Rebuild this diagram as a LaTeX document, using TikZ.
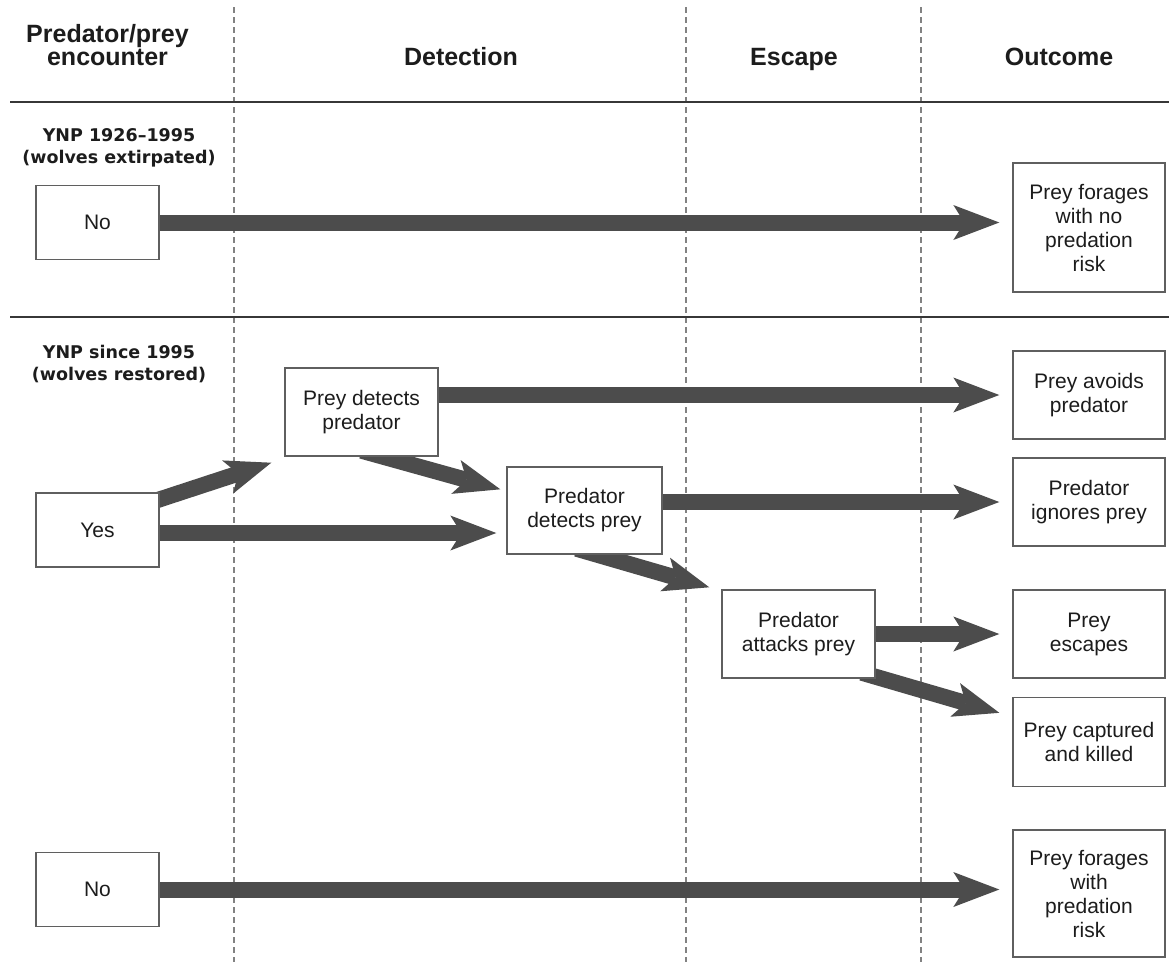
\documentclass[tikz,border=0pt]{standalone}
\usepackage{fontspec}
\setmainfont{Liberation Sans}
\newfontfamily\ynpfont{DejaVu Sans}
\usetikzlibrary{arrows.meta,calc}
\pgfdeclarelayer{back}
\pgfdeclarelayer{mid}
\pgfsetlayers{back,mid,main}
\definecolor{arrowgray}{RGB}{76,76,76}
\definecolor{boxline}{RGB}{95,95,95}
\definecolor{dashgray}{RGB}{130,130,130}
\definecolor{sepline}{RGB}{55,55,55}
\definecolor{txt}{RGB}{28,28,28}
\begin{document}
\begin{tikzpicture}[x=1pt,y=-1pt,
  box/.style={draw=boxline, line width=1.4pt, fill=white, text=txt, align=center,
    inner sep=0pt, minimum width=153pt, minimum height=88pt,
    font=\fontsize{21}{24}\selectfont},
  smallbox/.style={box, minimum width=123pt, minimum height=74pt},
  bigarrow/.style={draw=arrowgray, line width=16pt,
    -{Stealth[length=46pt,width=35pt,inset=11pt,line width=0pt]}},
  dashline/.style={draw=dashgray, line width=1.3pt, dash pattern=on 6pt off 4pt},
  sepstyle/.style={draw=sepline, line width=1.6pt},
  header/.style={text=txt, align=center, inner sep=0pt,
    font=\fontsize{25}{23}\selectfont\bfseries},
  era/.style={text=txt, align=center, inner sep=0pt,
    font=\ynpfont\fontsize{17.5}{22}\selectfont\bfseries}]

\useasboundingbox (0,0) rectangle (1169,962);

% background, column guides and row separators
\begin{pgfonlayer}{back}
  \fill[white] (0,0) rectangle (1169,962);
  \draw[dashline] (234,7) -- (234,962);
  \draw[dashline] (686,7) -- (686,962);
  \draw[dashline] (921,7) -- (921,962);
  \draw[sepstyle] (10,102) -- (1169,102);
  \draw[sepstyle] (10,317) -- (1169,317);
\end{pgfonlayer}

% headers
\node[header] (hEnc) at (107.5,45) {Predator/prey\\encounter};
\node[header, anchor=base] (hDet) at (461,65) {Detection};
\node[header, anchor=base] (hEsc) at (794,65) {Escape};
\node[header, anchor=base] (hOut) at (1059,65) {Outcome};

% era labels
\node[era] (era1) at (119,148) {YNP 1926–1995\\(wolves extirpated)};
\node[era] (era2) at (119,364) {YNP since 1995\\(wolves restored)};

% encounter boxes
\node[smallbox] (no1) at (97.5,222.5) {No};
\node[smallbox] (yes) at (97.5,530) {Yes};
\node[smallbox] (no2) at (97.5,889.5) {No};

% process boxes
\node[box] (pd)  at (361.5,412) {Prey detects\\predator};
\node[box, minimum width=155pt, minimum height=87pt] (pdp) at (584.5,510.5) {Predator\\detects prey};
\node[box] (pap) at (798.5,634) {Predator\\attacks prey};

% outcome boxes
\node[box, minimum width=152pt, minimum height=129pt] (o1) at (1089,227.5) {Prey forages\\with no\\predation\\risk};
\node[box, minimum width=152pt] (o2) at (1089,395) {Prey avoids\\predator};
\node[box, minimum width=152pt] (o3) at (1089,502) {Predator\\ignores prey};
\node[box, minimum width=152pt] (o4) at (1089,634) {Prey\\escapes};
\node[box, minimum width=152pt, minimum height=89pt] (o5) at (1089,742) {Prey captured\\and killed};
\node[box, minimum width=152pt, minimum height=127pt] (o6) at (1089,893.5) {Prey forages\\with\\predation\\risk};

% arrows
\begin{pgfonlayer}{mid}
  \draw[bigarrow] (no1.east) -- ($(no1.east -| o1.west)+(-13,0)$);
  \draw[bigarrow] (no2.east) -- ($(no2.east -| o6.west)+(-13,0)$);
  \draw[bigarrow] ($(yes.north east)+(-6,9)$) -- ($(pd.south west)+(-13,6)$);
  \draw[bigarrow] ($(yes.east)+(0,3)$) -- ($(yes.east -| pdp.west)+(-10,3)$);
  \draw[bigarrow] ($(pd.south)+(0,-6)$) -- ($(pdp.north west)+(-6,23)$);
  \draw[bigarrow] (pd.east |- o2.west) -- ($(o2.west)+(-13,0)$);
  \draw[bigarrow] (pdp.east |- o3.west) -- ($(o3.west)+(-13,0)$);
  \draw[bigarrow] ($(pdp.south)+(-8,-6)$) -- ($(pap.north west)+(-12,-2)$);
  \draw[bigarrow] (pap.east |- o4.west) -- ($(o4.west)+(-13,0)$);
  \draw[bigarrow] ($(pap.south east)+(-14,-6)$) -- ($(o5.north west)+(-13,16)$);
\end{pgfonlayer}
\end{tikzpicture}
\end{document}
